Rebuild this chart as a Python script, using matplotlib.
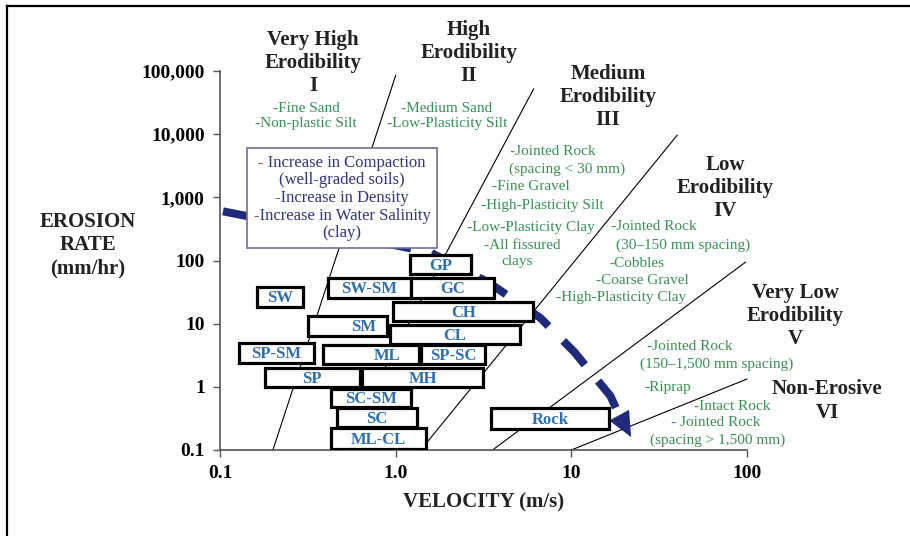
import matplotlib.pyplot as plt
from matplotlib.patches import Rectangle
from matplotlib.lines import Line2D

W, H = 910, 536

# soil / rock groups: velocity range (m/s) and erosion rate range (mm/hr)
soil_names = ['GP', 'SW-SM', 'GC', 'SW', 'CH', 'SM', 'CL', 'SP-SM', 'ML', 'SP-SC',
              'SP', 'MH', 'SC-SM', 'SC', 'ML-CL', 'Rock']
vel_lo = [1.20, 0.41, 1.23, 0.162, 0.97, 0.316, 0.925, 0.128, 0.385, 1.39,
          0.180, 0.641, 0.428, 0.462, 0.428, 3.51]
vel_hi = [2.70, 1.22, 3.65, 0.296, 6.08, 0.889, 5.13, 0.342, 1.35, 3.24,
          0.624, 3.16, 1.23, 1.32, 1.48, 16.4]
rate_lo = [61, 25.4, 25.4, 18.3, 11.0, 6.37, 4.75, 2.38, 2.30, 2.30,
           0.99, 1.0, 0.479, 0.231, 0.104, 0.215]
rate_hi = [122, 52.7, 52.7, 37.9, 22.0, 13.2, 9.5, 4.93, 4.58, 4.58,
           1.98, 1.98, 0.922, 0.463, 0.223, 0.463]

# category boundary lines (start and end points)
bound_v0 = [0.2, 0.49, 1.39, 3.56, 10]
bound_r0 = [0.1, 0.1, 0.1, 0.1, 0.1]
bound_v1 = [1.0, 6.1, 40, 98, 100]
bound_r1 = [85000, 52000, 9600, 94, 1.33]

# dashed trend arrow
trend_v = [0.104, 1.56, 3.42, 6.67, 10.4, 16.7, 18.7]
trend_r = [600, 136, 43.9, 12.3, 3.56, 0.715, 0.358]
tip_v, tip_r = 21.9, 0.16

y_ticks = [0.1, 1, 10, 100, 1000, 10000, 100000]
y_labels = ['0.1', '1', '10', '100', '1,000', '10,000', '100,000']
x_ticks = [0.1, 1, 10, 100]
x_labels = ['0.1', '1.0', '10', '100']

SERIF = 'Liberation Serif'
GREEN = '#3a8f55'
BLUE = '#2f6fb0'
NAVY = '#1f2a7a'

plt.rcParams['font.family'] = SERIF


def fpos(px, py):
    return px / W, 1 - py / H


fig = plt.figure(figsize=(W / 100, H / 100), dpi=100)
ax = fig.add_axes([220 / W, 1 - 450 / H, (747 - 220) / W, (450 - 71) / H])
ax.set_xscale('log')
ax.set_yscale('log')
ax.set_xlim(0.1, 100)
ax.set_ylim(0.1, 100000)
ax.set_xticks(x_ticks)
ax.set_xticklabels(x_labels)
ax.set_yticks(y_ticks)
ax.set_yticklabels(y_labels)
ax.minorticks_off()
ax.tick_params(direction='out', length=5, width=1, color='#555555',
               labelsize=14, pad=6)
for lab in ax.get_xticklabels() + ax.get_yticklabels():
    lab.set_fontweight('bold')
for s in ['top', 'right']:
    ax.spines[s].set_visible(False)
for s in ['left', 'bottom']:
    ax.spines[s].set_color('#555555')
    ax.spines[s].set_linewidth(1.2)
ax.patch.set_alpha(0)

# boundary lines
for v0, r0, v1, r1 in zip(bound_v0, bound_r0, bound_v1, bound_r1):
    ax.plot([v0, v1], [r0, r1], color='black', lw=0.8, zorder=2, clip_on=False)

# trend arrow
ax.plot(trend_v, trend_r, color=NAVY, lw=5.8, dashes=(4, 2.6),
        solid_capstyle='butt', dash_capstyle='butt', zorder=3)
ax.annotate('', xy=(tip_v, tip_r), xytext=(trend_v[-1], trend_r[-1]),
            arrowprops=dict(arrowstyle='-|>,head_length=1.0,head_width=0.45',
                            mutation_scale=18, color=NAVY, lw=0,
                            shrinkA=0, shrinkB=0), zorder=3)

# soil boxes
label_shift = {'SM': 12, 'ML': 12}
for name, v0, v1, r0, r1 in zip(soil_names, vel_lo, vel_hi, rate_lo, rate_hi):
    ax.add_patch(Rectangle((v0, r0), v1 - v0, r1 - r0, facecolor='white',
                           edgecolor='black', lw=2.3, zorder=4))
    xc = (v0 * v1) ** 0.5
    yc = (r0 * r1) ** 0.5
    ax.annotate(name, (xc, yc), xytext=(label_shift.get(name, 0), -1),
                textcoords='offset points', ha='center', va='center',
                fontsize=12, fontweight='bold', color=BLUE, zorder=5)

# note box
fig.text(*fpos(342, 198),
         '- Increase in Compaction\n(well-graded soils)\n-Increase in Density\n'
         '-Increase in Water Salinity\n(clay)',
         ha='center', va='center', fontsize=12, color='#34347c', linespacing=1.14,
         bbox=dict(boxstyle='square,pad=0.38', facecolor='white',
                   edgecolor='#6e6e96', lw=1.2), zorder=6)

# category titles
titles = [('Very High\nErodibility\nI', 313, 63),
          ('High\nErodibility\nII', 469, 53),
          ('Medium\nErodibility\nIII', 608, 97),
          ('Low\nErodibility\nIV', 725, 188),
          ('Very Low\nErodibility\nV', 795, 316),
          ('Non-Erosive\nVI', 827, 401)]
for t, px, py in titles:
    fig.text(*fpos(px, py), t, ha='center', va='center', fontsize=15,
             fontweight='bold', color='#222222', linespacing=1.2)

# material notes
notes = [('-Fine Sand\n-Non-plastic Silt', 306, 116),
         ('-Medium Sand\n-Low-Plasticity Silt', 447, 116),
         ('-Jointed Rock', 553, 152),
         ('(spacing < 30 mm)', 567, 169),
         ('-Fine Gravel', 531, 187),
         ('-High-Plasticity Silt', 542, 205),
         ('-Low-Plasticity Clay', 531, 228),
         ('-All fissured', 522, 246),
         ('clays', 517, 262),
         ('-Jointed Rock', 654, 227),
         ('(30\u2013150 mm spacing)', 683, 245),
         ('-Cobbles', 637, 263),
         ('-Coarse Gravel', 642, 281),
         ('-High-Plasticity Clay', 621, 298),
         ('-Jointed Rock', 690, 347),
         ('(150\u20131,500 mm spacing)', 717, 364),
         ('-Riprap', 668, 388),
         ('-Intact Rock', 732, 407),
         ('- Jointed Rock', 716, 423),
         ('(spacing > 1,500 mm)', 718, 440)]
for t, px, py in notes:
    fig.text(*fpos(px, py), t, ha='center', va='center', fontsize=11,
             color=GREEN, linespacing=1.15)

# axis titles
fig.text(*fpos(88, 245), 'EROSION\nRATE\n(mm/hr)', ha='center', va='center',
         fontsize=15, fontweight='bold', color='#222222', linespacing=1.2)
fig.text(*fpos(484, 502), 'VELOCITY (m/s)', ha='center', va='center',
         fontsize=15, fontweight='bold', color='#222222')

# outer frame (top and left edges)
fig.add_artist(Line2D([7 / W, 1], [1 - 6 / H, 1 - 6 / H], color='black', lw=1.6))
fig.add_artist(Line2D([7 / W, 7 / W], [0, 1 - 6 / H], color='black', lw=1.6))

fig.savefig('out.png', dpi=100)
